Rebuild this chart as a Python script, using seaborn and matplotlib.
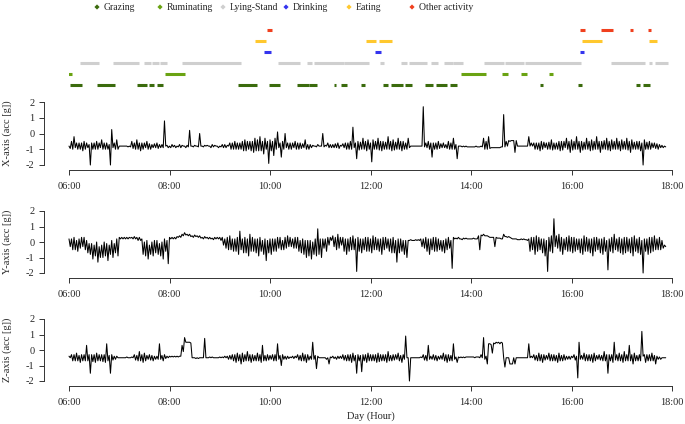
import numpy as np
import pandas as pd
import matplotlib
matplotlib.use("Agg")
import matplotlib.pyplot as plt
import seaborn as sns

# activity rows, bottom to top
activities = ["Grazing", "Ruminating", "Lying-Stand", "Drinking", "Eating", "Other activity"]
colours = ["#3B6B0D", "#6AA312", "#CFCFCF", "#3434EE", "#FFC82E", "#F0401E"]

grazing = [("06:01", "06:16"), ("06:33", "06:55"), ("07:21", "07:33"), ("07:35", "07:42"),
           ("07:45", "07:52"), ("09:22", "09:45"), ("09:59", "10:12"), ("10:32", "10:46"),
           ("10:47", "10:56"), ("11:16", "11:19"), ("11:25", "11:32"), ("11:49", "11:53"),
           ("12:15", "12:21"), ("12:24", "12:39"), ("12:41", "12:49"), ("13:05", "13:15"),
           ("13:18", "13:31"), ("13:35", "13:43"), ("15:22", "15:26"), ("16:08", "16:12"),
           ("17:17", "17:22"), ("17:25", "17:34")]
ruminating = [("05:59", "06:04"), ("07:55", "08:18"), ("13:48", "14:18"), ("14:37", "14:44"),
              ("15:00", "15:07"), ("15:33", "15:38")]
lying = [("06:13", "06:36"), ("06:52", "07:24"), ("07:30", "07:38"), ("07:39", "07:47"),
         ("07:49", "07:57"), ("08:15", "09:25"), ("10:09", "10:36"), ("10:44", "10:50"),
         ("10:53", "11:28"), ("11:28", "11:58"), ("12:11", "12:16"), ("12:36", "12:44"),
         ("12:46", "13:07"), ("13:12", "13:21"), ("13:28", "13:38"), ("13:39", "13:51"),
         ("14:15", "14:39"), ("14:41", "15:03"), ("15:04", "16:11"), ("16:47", "17:28"),
         ("17:32", "17:36"), ("17:40", "17:55")]
drinking = [("09:53", "10:01"), ("12:05", "12:12"), ("16:10", "16:15")]
eating = [("09:42", "09:55"), ("11:55", "12:07"), ("12:10", "12:26"), ("16:13", "16:37"),
          ("17:32", "17:42")]
other = [("09:57", "10:02"), ("16:10", "16:16"), ("16:35", "16:50"), ("17:10", "17:14"),
         ("17:31", "17:35")]
segments = [grazing, ruminating, lying, drinking, eating, other]

# accelerometer signal read as 3-min bins from 06:00: top of the trace in
# each bin, then bottom of the trace half a bin later; one row = 1 hour
step_min = 3
acc_x_hi = [
    -0.8, -0.5, -0.2, -0.6, -0.6, -0.6, -0.5, -0.6, -0.7, -0.6, -0.6, -0.5, -0.6, -0.4, -0.6, -0.6, -0.7, 0.25, -0.6, -0.4,
    -0.8, -0.8, -0.8, -0.8, -0.8, -0.5, -0.6, -0.4, -0.6, -0.6, -0.6, -0.5, -0.65, -0.7, -0.65, -0.6, -0.7, -0.7, 0.8, -0.75,
    -0.8, -0.7, -0.75, -0.8, -0.7, -0.75, -0.8, -0.75, 0.2, -0.8, -0.75, -0.8, 0.0, -0.8, -0.75, -0.75, -0.8, -0.7, -0.75, -0.8,
    -0.8, -0.7, -0.7, -0.75, -0.6, -0.6, -0.5, -0.6, -0.6, -0.5, -0.4, -0.5, -0.5, -0.5, -0.3, -0.4, -0.2, -0.5, -0.3, -0.5,
    -0.4, -0.5, -0.3, 0.1, -0.6, -0.5, 0.0, -0.6, -0.6, -0.6, -0.5, -0.6, -0.6, -0.65, -0.4, -0.7, -0.7, -0.75, -0.8, -0.7,
    -0.8, 0.0, -0.75, -0.6, -0.7, -0.7, -0.65, -0.6, -0.75, -0.65, -0.6, -0.6, -0.5, 0.4, -0.6, -0.5, -0.55, -0.3, -0.5, -0.4,
    -0.6, -0.4, -0.5, -0.3, -0.5, -0.5, -0.55, -0.2, -0.5, -0.4, -0.55, -0.3, -0.5, -0.5, -0.6, -0.3, -0.8, -0.8, -0.8, -0.8,
    -0.8, 1.7, -0.6, -0.5, -0.6, -0.6, -0.6, -0.5, -0.65, -0.6, -0.7, -0.5, -0.6, -0.3, -0.7, -0.8, -0.8, -0.8, -0.8, -0.85,
    -0.85, -0.85, -0.8, -0.85, -0.8, -0.3, -0.5, -0.2, -0.9, -0.9, -0.9, -0.9, -0.85, 1.2, -0.5, -0.45, -0.45, -0.45, -0.45, -0.8,
    -0.8, -0.8, -0.8, -0.2, -0.6, -0.6, -0.6, -0.6, -0.5, -0.55, -0.6, -0.55, -0.4, -0.6, -0.6, -0.5, -0.5, -0.5, -0.3, -0.5,
    -0.4, -0.5, -0.2, -0.5, -0.5, -0.55, -0.3, -0.5, -0.4, -0.5, -0.2, -0.5, -0.5, -0.45, -0.3, -0.5, -0.4, -0.5, -0.3, -0.5,
    -0.4, -0.5, -0.3, -0.5, -0.4, -0.55, -0.5, -0.5, -0.6, -0.4, -0.55, -0.5, -0.6, -0.6, -0.65, -0.7, -0.75, -0.8,
]
acc_x_lo = [
    -0.95, -1.0, -0.9, -1.0, -1.0, -1.1, -1.0, -0.9, -2.0, -1.0, -1.0, -1.0, -0.9, -1.0, -1.0, -1.0, -2.0, -0.9, -1.0, -1.0,
    -0.8, -0.8, -0.8, -0.85, -0.85, -0.95, -1.0, -1.0, -1.1, -1.0, -0.9, -1.0, -1.0, -0.9, -0.9, -0.95, -0.9, -0.9, -0.8, -0.9,
    -0.9, -0.85, -0.9, -0.85, -0.9, -0.8, -0.9, -0.85, -0.8, -0.85, -0.8, -0.85, -0.8, -0.85, -0.8, -0.8, -0.9, -0.85, -0.8, -0.9,
    -0.85, -0.9, -0.9, -0.8, -1.0, -1.0, -1.0, -1.0, -1.0, -1.1, -1.1, -1.0, -1.1, -1.2, -1.1, -1.1, -1.1, -1.3, -1.0, -1.9,
    -1.1, -1.4, -1.0, -0.9, -1.5, -1.0, -0.9, -1.0, -1.0, -0.9, -1.0, -1.0, -0.95, -0.9, -1.0, -1.0, -0.9, -0.8, -0.85, -0.8,
    -0.8, -0.85, -0.8, -0.9, -0.9, -0.9, -0.9, -0.95, -0.8, -0.9, -1.0, -1.0, -1.0, -0.9, -1.6, -1.05, -1.0, -1.0, -1.1, -1.0,
    -1.8, -1.0, -1.0, -1.05, -1.1, -1.0, -1.0, -1.0, -1.1, -1.05, -1.0, -1.0, -1.1, -1.0, -1.0, -0.9, -0.8, -0.8, -0.8, -0.8,
    -0.8, -0.85, -0.9, -1.0, -1.5, -1.0, -1.0, -0.95, -0.9, -0.9, -0.95, -1.0, -1.0, -1.0, -1.6, -0.8, -0.85, -0.85, -0.85, -0.85,
    -0.85, -0.85, -0.85, -0.85, -0.85, -1.0, -1.0, -0.95, -0.9, -0.9, -0.9, -0.9, -0.85, -0.85, -0.8, -0.5, -0.45, -1.2, -0.8, -0.8,
    -0.8, -0.8, -0.8, -0.8, -0.8, -1.0, -1.0, -1.1, -1.0, -0.9, -1.0, -1.0, -1.05, -1.0, -1.0, -1.1, -1.05, -0.9, -1.0, -1.2,
    -1.05, -1.0, -1.0, -1.2, -1.05, -1.0, -1.0, -1.1, -1.05, -1.0, -1.0, -1.2, -1.0, -1.0, -1.05, -1.1, -1.0, -1.0, -1.0, -1.1,
    -1.0, -1.0, -1.05, -1.2, -1.0, -1.0, -1.0, -1.1, -2.0, -1.0, -1.0, -1.0, -0.9, -0.95, -1.0, -0.9, -0.9, -0.85,
]
acc_y_hi = [
    0.2, 0.2, 0.3, 0.1, 0.2, 0.3, 0.3, 0.1, -0.1, -0.1, -0.2, 0.0, -0.3, -0.2, 0.0, -0.1, -0.2, 0.1, -0.1, 0.2,
    0.3, 0.3, 0.3, 0.3, 0.3, 0.3, 0.35, 0.3, 0.3, 0.2, 0.0, 0.1, -0.2, 0.0, 0.1, 0.1, -0.1, 0.0, 0.2, 0.1,
    0.3, 0.3, 0.3, 0.35, 0.4, 0.5, 0.6, 0.5, 0.5, 0.4, 0.45, 0.4, 0.4, 0.3, 0.35, 0.3, 0.3, 0.25, 0.3, 0.3,
    0.3, 0.3, 0.2, 0.3, 0.4, 0.2, 0.2, 0.3, 0.7, 0.2, 0.3, 0.2, 0.5, 0.3, 0.2, 0.2, 0.3, 0.1, 0.2, 0.1,
    0.2, 0.2, 0.2, 0.3, 0.3, 0.1, 0.3, 0.4, 0.3, 0.2, 0.3, 0.3, 0.1, 0.2, 0.1, 0.1, 0.1, 0.0, 0.2, 0.85,
    0.2, 0.2, 0.2, 0.3, 0.3, 0.4, 0.3, 0.5, 0.3, 0.3, 0.2, 0.2, 0.3, 0.4, 0.2, 0.3, 0.2, 0.2, 0.3, 0.3,
    0.2, 0.4, 0.3, 0.2, 0.2, 0.3, 0.3, 0.2, 0.2, 0.3, 0.1, 0.2, 0.2, 0.1, 0.1, 0.1, 0.15, 0.1, 0.15, 0.15,
    0.2, 0.2, 0.3, 0.2, 0.2, 0.3, 0.3, 0.2, 0.1, 0.1, 0.2, 0.3, 0.1, 0.3, 0.25, 0.3, 0.2, 0.25, 0.25, 0.2,
    0.2, 0.25, 0.2, 0.4, 0.45, 0.5, 0.4, 0.35, 0.3, 0.3, 0.3, 0.25, 0.2, 0.5, 0.35, 0.35, 0.25, 0.2, 0.2, 0.15,
    0.2, 0.2, 0.15, 0.2, 0.3, 0.3, 0.4, 0.3, 0.2, 0.2, 0.1, 0.3, 0.4, 1.5, 0.4, 0.5, 0.3, 0.2, 0.3, 0.4,
    0.3, 0.3, 0.2, 0.2, 0.2, 0.4, 0.3, 0.2, 0.2, 0.3, 0.3, 0.2, 0.2, 0.3, 0.1, 0.2, 0.3, 0.5, 0.2, 0.3,
    0.2, 0.3, 0.3, 0.2, 0.3, 0.4, 0.2, 0.3, 0.1, 0.2, 0.2, 0.3, 0.3, 0.4, 0.2, 0.3, 0.1, -0.2,
]
acc_y_lo = [
    -0.3, -0.5, -0.5, -0.6, -0.4, -0.3, -0.5, -0.7, -0.8, -1.1, -0.9, -1.3, -1.0, -1.0, -0.9, -1.2, -0.8, -1.0, -0.7, -0.9,
    0.2, 0.2, 0.2, 0.2, 0.25, 0.2, 0.2, 0.1, 0.1, -0.8, -0.9, -1.1, -0.8, -0.9, -0.7, -0.8, -0.9, -1.1, -0.6, -1.4,
    0.2, 0.2, 0.2, 0.3, 0.3, 0.4, 0.45, 0.4, 0.35, 0.3, 0.35, 0.3, 0.25, 0.2, 0.25, 0.2, 0.2, 0.15, 0.2, 0.2,
    0.1, -0.2, -0.4, -0.5, -0.5, -0.6, -0.6, -0.8, -0.5, -0.7, -0.7, -0.9, -0.6, -0.6, -0.7, -0.9, -0.6, -0.8, -1.2, -0.7,
    -0.8, -0.6, -0.6, -0.4, -0.5, -0.5, -0.4, -0.3, -0.3, -0.4, -0.4, -0.6, -0.7, -0.8, -1.0, -0.9, -1.1, -0.8, -0.9, -0.8,
    -1.0, -0.4, -0.6, -0.2, 0.1, -0.3, -0.5, -0.4, -0.2, -0.6, -0.8, -0.6, -0.5, -0.5, -1.9, -0.6, -0.7, -0.5, -0.6, -0.6,
    -0.7, -0.5, -0.5, -0.6, -0.8, -0.5, -0.4, -0.6, -0.7, -0.7, -1.3, -0.7, -0.6, -0.8, -1.0, 0.1, 0.1, 0.1, 0.1, 0.1,
    -0.3, -0.4, -0.6, -0.8, -0.5, -0.6, -0.6, -0.5, -0.6, -0.7, -0.5, -0.4, -1.7, 0.2, 0.2, 0.2, 0.15, 0.2, 0.2, 0.2,
    0.2, 0.2, 0.2, -0.5, 0.4, 0.4, 0.4, 0.3, 0.3, -0.3, 0.25, 0.25, 0.2, 0.35, 0.3, 0.3, 0.2, 0.2, 0.15, 0.15,
    0.15, 0.15, 0.1, -0.6, -0.5, -0.8, -0.6, -0.5, -0.7, -0.9, -1.9, -0.6, -0.7, -0.3, -0.4, -0.6, -0.8, -0.5, -0.6, -0.6,
    -0.7, -0.6, -0.5, -0.7, -0.8, -0.6, -0.6, -0.7, -0.9, -0.6, -0.5, -0.7, -0.8, -0.6, -1.8, -0.6, -0.7, -0.5, -0.6, -0.7,
    -0.8, -0.7, -0.6, -0.7, -0.9, -0.6, -0.7, -0.8, -2.0, -0.6, -0.8, -0.7, -0.6, -0.5, -0.5, -0.5, -0.4, -0.3,
]
acc_z_hi = [
    -0.4, -0.3, -0.3, -0.2, -0.35, -0.3, -0.3, 0.3, -0.3, -0.3, -0.3, -0.2, -0.3, -0.3, -0.3, 0.4, -0.35, -0.3, -0.4, -0.4,
    -0.5, -0.5, -0.5, -0.45, -0.5, -0.45, -0.3, -0.35, -0.1, -0.3, -0.2, -0.35, -0.3, -0.35, -0.4, -0.4, 0.4, -0.35, -0.3, -0.4,
    -0.4, -0.4, -0.4, -0.4, -0.4, 0.3, 0.8, 0.5, 0.5, -0.5, -0.5, -0.5, -0.5, -0.5, 0.75, -0.5, -0.45, -0.45, -0.5, -0.5,
    -0.45, -0.45, -0.4, -0.4, -0.35, -0.3, -0.3, -0.2, -0.3, -0.2, -0.3, -0.1, -0.3, -0.3, -0.35, -0.2, -0.3, 0.3, -0.35, -0.3,
    -0.35, -0.3, -0.3, 0.4, -0.35, -0.3, -0.4, -0.4, -0.45, -0.4, -0.4, -0.3, -0.35, -0.2, -0.3, -0.3, -0.4, 0.5, -0.35, -0.4,
    -0.5, -0.5, -0.5, -0.5, -0.45, -0.4, -0.45, -0.4, -0.4, -0.3, -0.35, -0.3, -0.3, -0.2, -0.35, -0.3, -0.35, -0.3, -0.3, -0.2,
    -0.3, -0.3, -0.3, -0.2, -0.3, -0.3, -0.3, -0.1, -0.35, -0.3, -0.3, -0.2, -0.35, -0.3, 0.9, -0.5, -0.5, -0.5, -0.5, -0.5,
    -0.45, -0.3, -0.35, 0.3, -0.4, -0.3, -0.35, -0.4, -0.35, -0.2, -0.3, -0.3, -0.35, 0.4, -0.45, -0.45, -0.45, -0.45, -0.45, -0.45,
    -0.45, -0.45, -0.45, -0.45, -0.3, 0.8, -0.4, 0.4, 0.35, 0.45, 0.5, 0.5, 0.5, -0.5, -0.5, -0.5, -0.9, -0.5, -0.5, -0.5,
    -0.5, -0.5, -0.5, 0.4, -0.4, -0.3, -0.35, -0.2, -0.3, -0.3, -0.35, -0.2, -0.3, -0.3, -0.35, -0.2, -0.35, -0.3, -0.4, -0.4,
    -0.4, -0.3, -0.4, 0.5, -0.35, -0.2, -0.3, -0.3, -0.3, -0.2, -0.35, -0.3, -0.35, -0.1, -0.3, -0.3, -0.3, 0.5, -0.3, -0.2,
    -0.3, -0.1, -0.3, 0.3, -0.3, -0.2, -0.35, -0.3, 1.2, -0.3, -0.3, -0.3, -0.2, -0.35, -0.4, -0.45, -0.5, -0.5,
]
acc_z_lo = [
    -0.5, -0.7, -0.7, -0.7, -0.8, -0.7, -0.7, -0.7, -1.5, -0.75, -0.8, -0.7, -0.7, -0.75, -0.8, -0.7, -1.5, -0.65, -0.6, -0.5,
    -0.5, -0.5, -0.5, -0.5, -0.5, -0.5, -0.65, -0.7, -0.7, -0.8, -0.7, -0.6, -0.65, -0.7, -0.6, -0.6, -0.6, -0.7, -0.55, -0.5,
    -0.45, -0.45, -0.45, -0.45, -0.4, -0.1, 0.5, 0.5, 0.45, -0.5, -0.55, -0.55, -0.5, -0.5, -0.5, -0.5, -0.5, -0.5, -0.5, -0.5,
    -0.5, -0.5, -0.5, -0.6, -0.6, -0.7, -0.8, -0.7, -0.9, -0.75, -0.7, -0.7, -0.8, -0.7, -0.7, -0.7, -0.8, -0.7, -0.7, -0.65,
    -0.6, -0.7, -0.7, -0.6, -1.0, -0.6, -0.6, -0.55, -0.5, -0.55, -0.5, -0.65, -0.7, -0.7, -0.8, -0.65, -0.6, -0.6, -1.2, -0.5,
    -0.5, -0.5, -0.6, -0.9, -0.5, -0.55, -0.6, -0.55, -0.55, -0.65, -0.7, -0.7, -0.8, -0.7, -1.5, -0.7, -1.4, -0.7, -0.8, -0.7,
    -0.7, -0.7, -0.8, -0.75, -0.7, -0.7, -0.8, -0.7, -0.7, -0.65, -0.6, -0.7, -0.8, -0.6, -0.5, -2.0, -0.5, -0.5, -0.5, -0.5,
    -0.5, -0.65, -0.7, -0.6, -0.6, -0.65, -0.7, -0.6, -0.6, -0.7, -0.8, -0.7, -0.7, -0.6, -0.8, -0.5, -0.5, -0.5, -0.45, -0.45,
    -0.45, -0.5, -0.45, -0.5, -0.5, -0.6, -0.9, 0.4, -0.2, 0.4, 0.45, 0.4, 0.45, -1.1, -0.5, -0.9, -0.9, -0.9, -0.5, -0.5,
    -0.5, -0.5, -0.5, -0.5, -0.5, -0.65, -0.7, -0.7, -0.8, -0.65, -0.6, -0.7, -0.7, -0.7, -0.8, -0.7, -0.7, -0.65, -0.6, -0.6,
    -0.5, -0.65, -1.8, -0.6, -0.6, -0.7, -0.7, -0.7, -0.8, -0.7, -0.6, -0.65, -0.7, -0.7, -1.5, -0.7, -0.8, -0.65, -0.7, -0.7,
    -0.8, -0.7, -0.7, -0.7, -0.9, -0.7, -0.7, -0.7, -0.4, -0.8, -0.7, -0.7, -0.7, -0.9, -0.6, -0.6, -0.5, -0.5,
]
panel_labels = ["X-axis (acc [g])", "Y-axis (acc [g])", "Z-axis (acc [g])"]
hour_labels = ["06:00", "08:00", "10:00", "12:00", "14:00", "16:00", "18:00"]


def to_min(hhmm):
    h, m = hhmm.split(":")
    return (int(h) - 6) * 60 + int(m)


sns.set_style("ticks")
plt.rcParams["font.family"] = ["Liberation Serif", "DejaVu Serif"]
plt.rcParams["axes.unicode_minus"] = False

W, H = 685, 424
fig = plt.figure(figsize=(W / 100, H / 100), dpi=100)


def box(top, bottom):
    # pixel rows -> figure fraction
    return [69 / W, 1 - bottom / H, 603 / W, (bottom - top) / H]


# legend strip
ax_leg = fig.add_axes([0, 1 - 14 / H, 1, 14 / H])
ax_leg.set_xlim(0, W)
ax_leg.set_ylim(0, 14)
ax_leg.axis("off")
mark_x = [97 + 63 * i for i in range(6)]
sns.scatterplot(x=mark_x, y=[7] * 6, hue=activities, palette=colours, marker="D",
                s=7, linewidth=0, legend=False, ax=ax_leg)
for x, name in zip(mark_x, activities):
    ax_leg.text(x + 7, 7, name, fontsize=7, va="center", ha="left")

# activity timeline
ax_act = fig.add_axes(box(20, 95))
rows = []
for k, (name, segs) in enumerate(zip(activities, segments), start=1):
    for j, (a, b) in enumerate(segs):
        rows.append({"act": name, "seg": f"{name}{j}", "t": to_min(a), "row": k})
        rows.append({"act": name, "seg": f"{name}{j}", "t": to_min(b), "row": k})
seg_df = pd.DataFrame(rows)
sns.lineplot(data=seg_df, x="t", y="row", hue="act", units="seg", estimator=None,
             palette=dict(zip(activities, colours)), lw=2.2, legend=False, sort=False,
             solid_capstyle="butt", ax=ax_act)
ax_act.set_xlim(0, 720)
ax_act.set_ylim(0.06, 6.88)
ax_act.axis("off")

# accelerometer panels
boxes = [box(102, 165), box(211, 273), box(319, 381)]
series = [(acc_x_hi, acc_x_lo), (acc_y_hi, acc_y_lo), (acc_z_hi, acc_z_lo)]
for i, (b, (hi, lo), label) in enumerate(zip(boxes, series, panel_labels)):
    ax = fig.add_axes(b)
    t = np.arange(len(hi)) * step_min
    df = pd.concat([pd.DataFrame({"t": t, "acc": hi}),
                    pd.DataFrame({"t": t + step_min / 2, "acc": lo})])
    sns.lineplot(data=df, x="t", y="acc", color="black", lw=0.75, estimator=None, ax=ax)
    for ln in ax.lines:
        ln.set_clip_on(False)
    ax.set_xlim(0, 720)
    ax.set_ylim(-2, 2)
    ax.set_xticks(range(0, 721, 120))
    ax.set_xticklabels(hour_labels)
    ax.set_yticks([-2, -1, 0, 1, 2])
    ax.set_yticklabels(["-2", "-1", "0", "1", "2"])
    sns.despine(ax=ax)
    ax.spines["left"].set_position(("outward", 18))
    ax.spines["bottom"].set_position(("outward", 3.8))
    ax.spines["left"].set_bounds(-2, 2)
    ax.spines["bottom"].set_bounds(0, 720)
    for s in ["left", "bottom"]:
        ax.spines[s].set_linewidth(0.7)
        ax.spines[s].set_color("#333333")
    ax.tick_params(axis="both", labelsize=7.5, width=0.7, color="#333333", length=3.5, pad=3.2)
    ax.tick_params(axis="x", pad=5)
    ax.set_ylabel(label, fontsize=7.5)
    ax.yaxis.set_label_coords(-0.095, 0.5)
    if i == 2:
        ax.set_xlabel("Day (Hour)", fontsize=7.5)
        ax.xaxis.set_label_coords(0.5, -0.565)
        ax.xaxis.label.set_va("center")
    else:
        ax.set_xlabel("")

fig.savefig("out.png", dpi=100)
